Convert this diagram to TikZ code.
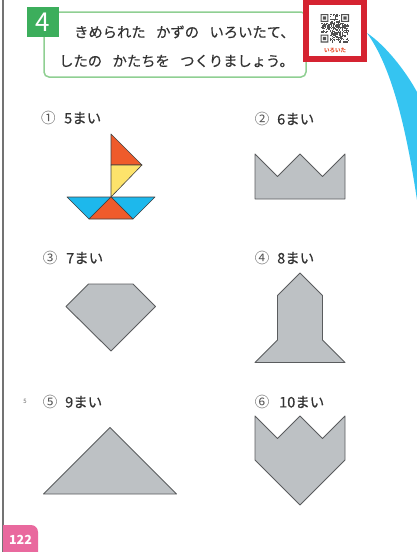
\documentclass[tikz,border=0pt]{standalone}
\usepackage{fontspec}
\setmainfont{Noto Sans CJK JP}
\newfontfamily\jpmed{Noto Sans CJK JP}[FakeBold=0.4]
\definecolor{headgreen}{HTML}{3CAE5C}
\definecolor{framegreen}{HTML}{8FCF92}
\definecolor{qrred}{HTML}{D52331}
\definecolor{swooshblue}{HTML}{35C4F1}
\definecolor{pagepink}{HTML}{E9699E}
\definecolor{tilegray}{HTML}{BDC1C4}
\definecolor{tileedge}{HTML}{5A5C5E}
\definecolor{sailorange}{HTML}{EF5B2B}
\definecolor{sailyellow}{HTML}{FDE36B}
\definecolor{hullblue}{HTML}{1DB8EC}
\definecolor{inktext}{HTML}{333333}
\definecolor{numgray}{HTML}{555555}
\definecolor{qrink}{HTML}{505050}
\definecolor{qrlabel}{HTML}{E8502E}
\newcommand{\gap}{\hspace{10.5pt}}
\tikzset{
  tile/.style={fill=tilegray, draw=tileedge, line width=0.9pt, line join=round},
  piece/.style={draw=black!75, line width=0.6pt, line join=round},
  numlbl/.style={font=\fontsize{14.5}{14.5}\selectfont, text=numgray, inner sep=0},
  qtylbl/.style={font=\jpmed\fontsize{14.5}{14.5}\selectfont, text=inktext, anchor=west, inner sep=0},
  headline/.style={text=inktext, font=\jpmed\fontsize{14.3}{14.3}\selectfont, anchor=west, inner sep=0},
  qr/.style={fill=qrink},
}
\begin{document}
\begin{tikzpicture}[x=1pt,y=-1pt]
\useasboundingbox (0,0) rectangle (417,552);

% page edge
\draw[black!55, line width=1.1pt] (3,0) -- (3,552);

% blue swoosh from the QR panel
\fill[swooshblue] (367,33) .. controls (385,45) and (405,70) .. (417,92)
  -- (417,200) .. controls (405,120) and (390,65) .. (367,33) -- cycle;

% task header
\draw[framegreen, line width=1.5pt, rounded corners=5]
  (44,37) -- (44,77) -- (306,77) -- (306,12) -- (59,12);
\fill[headgreen] (27,7) rectangle (59,37);
\node[text=white, font=\fontsize{26}{26}\selectfont, inner sep=0] (num) at (43,22.5) {4};
\node[headline] (line1) at (74,32) {きめられた\gap かずの\gap いろいたて、};
\node[headline] (line2) at (59,61) {したの\gap かたちを\gap つくりましょう。};

% QR panel
\fill[white] (306,2) rectangle (364,59);
\draw[qrred, line width=6pt] (306,2) rectangle (364,59);
\pgfmathsetseed{2718}
\def\qx{320.5}\def\qy{14}\def\qm{1.14}
\foreach \i in {0,...,24}{
  \foreach \j in {0,...,24}{
    \pgfmathtruncatemacro\bit{rnd<0.5 ? 1 : 0}
    \ifnum\bit=1
      \fill[qr] ({\qx+\i*\qm},{\qy+\j*\qm}) rectangle ++(\qm,\qm);
    \fi
  }
}
\foreach \a/\b in {0/0,18/0,0/18}{
  \fill[white] ({\qx+\a*\qm-(\a>0)*\qm},{\qy+\b*\qm-(\b>0)*\qm}) rectangle ++(8*\qm,8*\qm);
  \fill[qr, even odd rule]
    ({\qx+\a*\qm},{\qy+\b*\qm}) rectangle ++(7*\qm,7*\qm)
    ({\qx+(\a+1)*\qm},{\qy+(\b+1)*\qm}) rectangle ++(5*\qm,5*\qm)
    ({\qx+(\a+2)*\qm},{\qy+(\b+2)*\qm}) rectangle ++(3*\qm,3*\qm);
}
\node[text=qrlabel, font=\fontsize{5.5}{5.5}\selectfont\bfseries, inner sep=0] (qrtag) at (335,50.5) {いろいた};

% 1: sailboat, 5 pieces
\node[numlbl] (n1) at (48.5,118) {①};
\node[qtylbl] (q1) at (64,118) {5まい};
\filldraw[piece, fill=sailorange] (111,134) -- (111,165) -- (142,165) -- cycle;
\filldraw[piece, fill=sailyellow] (111,165) -- (142,165) -- (111,197) -- cycle;
\filldraw[piece, fill=hullblue] (67,197) -- (111,197) -- (89,219) -- cycle;
\filldraw[piece, fill=hullblue] (111,197) -- (155,197) -- (133,219) -- cycle;
\filldraw[piece, fill=sailorange] (111,197) -- (133,219) -- (89,219) -- cycle;

% 2: crown, 6 pieces
\node[numlbl] (n2) at (262,119) {②};
\node[qtylbl] (q2) at (277,119) {6まい};
\filldraw[tile] (255,154) -- (277.5,176.5) -- (300,154) -- (322.5,176.5) -- (345,154)
  -- (345,199) -- (255,199) -- cycle;

% 3: gem, 7 pieces
\node[numlbl] (n3) at (50,258) {③};
\node[qtylbl] (q3) at (66,258) {7まい};
\filldraw[tile] (88.5,284) -- (133,284) -- (155.5,306.5) -- (111,351) -- (66,306.5) -- cycle;

% 4: rocket, 8 pieces
\node[numlbl] (n4) at (262,258) {④};
\node[qtylbl] (q4) at (277,258) {8まい};
\filldraw[tile] (300,273) -- (322.5,295.5) -- (322.5,340) -- (345,362.5) -- (255,362.5)
  -- (277.5,340) -- (277.5,295.5) -- cycle;

% 5: large triangle, 9 pieces
\node[font=\fontsize{6}{6}\selectfont, text=black!60, inner sep=0] (side5) at (25,401.5) {5};
\node[numlbl] (n5) at (50,402) {⑤};
\node[qtylbl] (q5) at (65,402) {9まい};
\filldraw[tile] (43.5,494) -- (110,427.5) -- (176.5,494) -- cycle;

% 6: arrow-crown, 10 pieces
\node[numlbl] (n6) at (262,402) {⑥};
\node[qtylbl] (q6) at (279,402) {10まい};
\filldraw[tile] (255,416) -- (277.5,438.5) -- (300,416) -- (322.5,438.5) -- (345,416)
  -- (345,460) -- (300,505) -- (255,460) -- cycle;

% page number tab
\fill[pagepink] (3,552) -- (3,525) -- (31,525) arc (-90:0:7) -- (38,552) -- cycle;
\node[text=white, font=\fontsize{12.5}{12.5}\selectfont\bfseries, inner sep=0] (page) at (20.5,540) {122};
\end{tikzpicture}
\end{document}
